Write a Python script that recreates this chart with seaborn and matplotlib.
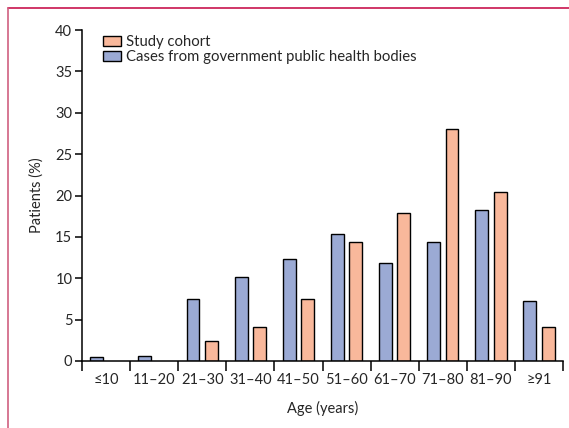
import numpy as np
import pandas as pd
import matplotlib
matplotlib.use("Agg")
import matplotlib.pyplot as plt
from matplotlib.lines import Line2D
from matplotlib.patches import Patch
import seaborn as sns

age_groups = ["≤10", "11–20", "21–30", "31–40", "41–50", "51–60", "61–70", "71–80", "81–90", "≥91"]
government = [0.5, 0.65, 7.5, 10.2, 12.3, 15.3, 11.8, 14.4, 18.2, 7.3]
study = [0.0, 0.0, 2.4, 4.1, 7.5, 14.4, 17.9, 28.0, 20.4, 4.1]

gov_name = "Cases from government public health bodies"
study_name = "Study cohort"

df = pd.DataFrame({
    "age": age_groups * 2,
    "pct": government + study,
    "source": [gov_name] * len(age_groups) + [study_name] * len(age_groups),
})

sns.set_style("white")
plt.rcParams["font.family"] = ["Lato", "DejaVu Sans"]
plt.rcParams["font.size"] = 10

fig = plt.figure(figsize=(5.69, 4.28), dpi=100)
ax = fig.add_axes([82 / 569, 1 - 361 / 428, (563 - 82) / 569, (361 - 30) / 428])

palette = {gov_name: "#9baad4", study_name: "#f9b89b"}
sns.barplot(data=df, x="age", y="pct", hue="source", order=age_groups,
            hue_order=[gov_name, study_name], palette=palette, width=0.77,
            gap=0.3, edgecolor="black", linewidth=1.0, saturation=1,
            legend=False, ax=ax)

# hide zero-height bars
for cont in ax.containers:
    for p in cont:
        if p.get_height() == 0:
            p.set_visible(False)

ax.set_xlim(-0.5, len(age_groups) - 0.5)
ax.set_ylim(0, 40)
ax.set_yticks(np.arange(0, 41, 5))

ax.set_xticks(np.arange(-0.5, len(age_groups), 1))
ax.set_xticklabels([])
ax.set_xticks(np.arange(len(age_groups)), minor=True)
ax.set_xticklabels(age_groups, minor=True)
ax.tick_params(axis="x", which="major", length=7, width=1.1, color="black", direction="out", bottom=True)
ax.tick_params(axis="x", which="minor", length=0, pad=9, labelsize=10.5)
ax.tick_params(axis="y", length=5, width=1.1, color="black", left=True, pad=2, labelsize=10.5)

for s in ["top", "right"]:
    ax.spines[s].set_visible(False)
for s in ["left", "bottom"]:
    ax.spines[s].set_color("black")
    ax.spines[s].set_linewidth(1.1)

ax.set_xlabel("Age (years)", fontsize=10.5, labelpad=10)
ax.set_ylabel("Patients (%)", fontsize=10.5, labelpad=8)

handles = [Patch(facecolor=palette[study_name], edgecolor="black", linewidth=1.0),
           Patch(facecolor=palette[gov_name], edgecolor="black", linewidth=1.0)]
ax.legend(handles, [study_name, gov_name],
          loc="upper left", bbox_to_anchor=(0.0285, 1.008), frameon=False,
          fontsize=10.7, handlelength=1.2, handleheight=0.65,
          handletextpad=0.35, labelspacing=0.1, borderpad=0)

# journal frame
fig.add_artist(Line2D([8 / 569, 1], [1 - 8 / 428, 1 - 8 / 428], color="#c8144e", lw=1.2))
fig.add_artist(Line2D([8 / 569, 8 / 569], [0, 1 - 8 / 428], color="#d06080", lw=1.2))

fig.savefig("out.png", dpi=100)
